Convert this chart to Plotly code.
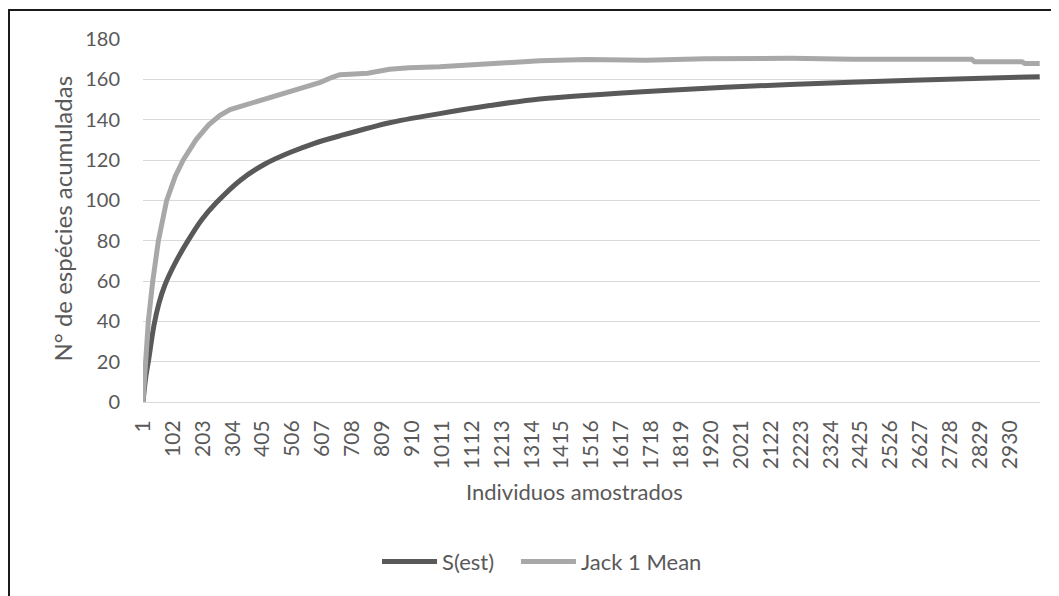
import plotly.graph_objects as go

# ---- data ----
s_est_n = [1, 10, 19, 38, 55, 75, 110, 153, 200, 250, 330, 413, 497, 580, 666, 834, 1003, 1172, 1341,
           1748, 2186, 2600, 3030]
s_est_v = [0, 12, 20, 38, 49, 58, 69, 80, 90.5, 99, 110, 118, 123.7, 128.3, 132, 138.5, 143, 147, 150.3,
           154.4, 157.5, 159.6, 161.3]

jack_n = [1, 8, 19, 34, 53, 81, 110, 137, 180, 222, 260, 295, 340, 373, 410, 440, 497, 540, 600, 640, 666,
          700, 760, 834, 900, 1003, 1172, 1341, 1500, 1700, 1900, 2100, 2186, 2400, 2800, 2810, 2970,
          2980, 3030]
jack_v = [0, 20, 40, 60, 80, 100, 112, 120, 130, 137.3, 142, 145, 147, 148.5, 150.5, 152, 154.5, 156,
          158.5, 161, 162.3, 162.5, 163, 165, 165.8, 166.3, 168, 169.2, 169.8, 169.5, 170.2, 170.5, 170.4,
          169.9, 169.9, 168.7, 168.7, 167.9, 167.9]

x_ticks = [1, 102, 203, 304, 405, 506, 607, 708, 809, 910, 1011, 1112, 1213, 1314, 1415, 1516, 1617, 1718,
           1819, 1920, 2021, 2122, 2223, 2324, 2425, 2526, 2627, 2728, 2829, 2930]
y_ticks = [0, 20, 40, 60, 80, 100, 120, 140, 160, 180]

FONT = "Lato"
TXT = "#595959"

fig = go.Figure()
fig.add_trace(go.Scatter(x=s_est_n, y=s_est_v, mode="lines", name="S(est)", legend="legend",
                         line=dict(color="#595959", width=5, shape="spline", smoothing=0.8)))
fig.add_trace(go.Scatter(x=jack_n, y=jack_v, mode="lines", name="Jack 1 Mean", legend="legend2",
                         line=dict(color="#a8a8a8", width=5)))

leg_common = dict(orientation="h", xanchor="left", y=-0.44, yanchor="middle",
                  font=dict(size=22, color=TXT), itemwidth=55, bgcolor="rgba(0,0,0,0)")

# plot area (window px): x 143..1040, y 39..402 ; page body has 8px margin
fig.update_layout(
    width=1051, height=588,
    margin=dict(l=135, r=19, t=31, b=194),
    paper_bgcolor="white", plot_bgcolor="white",
    font=dict(family=FONT, color=TXT, size=19),
    showlegend=True,
    legend=dict(x=0.2609, **leg_common),
    legend2=dict(x=0.4158, **leg_common),
    xaxis=dict(range=[1, 3031], tickmode="array", tickvals=x_ticks, ticktext=[str(t) for t in x_ticks],
               tickangle=-90, showgrid=False, zeroline=False, showline=True, linecolor="#d9d9d9",
               linewidth=1, ticks="", ticklabelstandoff=9, tickfont=dict(size=21, color=TXT)),
    yaxis=dict(range=[0, 180], tickmode="array", tickvals=y_ticks, showgrid=True, gridcolor="#d9d9d9",
               gridwidth=1, zeroline=False, showline=False, ticks="", ticklabelstandoff=22,
               tickfont=dict(size=20, color=TXT)),
    annotations=[
        dict(text="Individuos amostrados", xref="paper", yref="paper", x=0.4816, y=(402 - 491) / 363,
             xanchor="center", yanchor="middle", showarrow=False, font=dict(size=22, color=TXT)),
        dict(text="N° de espécies acumuladas", xref="paper", yref="paper", x=(63 - 143) / 897, y=0.5055,
             xanchor="center", yanchor="middle", textangle=-90, showarrow=False,
             font=dict(size=24, color=TXT)),
    ],
    shapes=[dict(type="rect", xref="paper", yref="paper", x0=(9 - 143) / 897, x1=1.1,
                 y0=-0.7, y1=(402 - 10) / 363, line=dict(color="#1a1a1a", width=2), layer="below")],
)

fig.write_html("out.html")
